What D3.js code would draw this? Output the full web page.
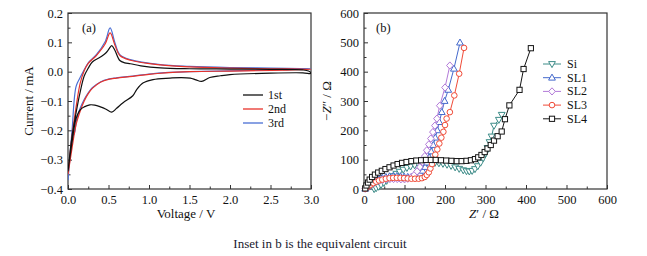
<!DOCTYPE html>
<html><head><meta charset="utf-8">
<script src="https://cdn.jsdelivr.net/npm/d3@7/dist/d3.min.js"></script>
<style>
html,body{margin:0;padding:0;background:#fff;}
svg{display:block;font-family:"Liberation Serif","DejaVu Serif",serif;}
</style></head>
<body><svg id="c" width="647" height="256"></svg>
<script>
// ---------- Data (a): cyclic voltammetry ----------
const cvSeries = ["1st","2nd","3rd"];
const cv1V = [0.00,0.05,0.10,0.15,0.20,0.25,0.30,0.40,0.46,0.50,0.54,0.58,0.64,0.70,0.77,0.90,1.14,1.50,2.00,2.50,2.90,2.97,3.00,
              2.90,2.50,2.00,1.88,1.75,1.65,1.58,1.51,1.40,1.26,1.05,0.93,0.85,0.80,0.68,0.60,0.54,0.47,0.40,0.33,0.27,0.20,0.15,0.10,0.05,0.00];
const cv1I = [-0.34,-0.22,-0.14,-0.07,-0.015,0.012,0.033,0.050,0.062,0.075,0.089,0.072,0.038,0.030,0.027,0.020,0.013,0.010,0.009,0.008,0.006,0.002,-0.006,
              -0.004,-0.005,-0.010,-0.014,-0.020,-0.033,-0.028,-0.022,-0.020,-0.022,-0.027,-0.038,-0.060,-0.082,-0.106,-0.125,-0.138,-0.128,-0.120,-0.114,-0.113,-0.120,-0.130,-0.160,-0.240,-0.34];
const cv2V = [0.00,0.05,0.10,0.15,0.20,0.25,0.35,0.46,0.52,0.58,0.64,0.77,1.14,1.50,2.00,2.50,3.00,
              2.50,2.00,1.50,1.20,1.00,0.80,0.60,0.50,0.40,0.30,0.25,0.20,0.15,0.10,0.05,0.00];
const cv2I = [-0.35,-0.22,-0.12,-0.04,0.003,0.028,0.055,0.095,0.132,0.090,0.055,0.039,0.023,0.016,0.012,0.010,0.008,
              0.004,0.002,0.000,-0.004,-0.009,-0.016,-0.022,-0.026,-0.036,-0.057,-0.075,-0.100,-0.135,-0.180,-0.260,-0.35];
const cv3V = [0.00,0.05,0.10,0.15,0.19,0.25,0.35,0.46,0.52,0.58,0.64,0.77,1.14,1.50,2.00,2.50,3.00,
              2.50,2.00,1.50,1.20,1.00,0.80,0.60,0.50,0.40,0.30,0.25,0.20,0.15,0.12,0.10,0.08,0.06,0.03,0.00];
const cv3I = [-0.37,-0.20,-0.05,-0.02,0.001,0.030,0.058,0.103,0.149,0.098,0.058,0.041,0.024,0.018,0.014,0.012,0.010,
              0.006,0.003,0.000,-0.003,-0.008,-0.015,-0.021,-0.025,-0.035,-0.055,-0.072,-0.095,-0.125,-0.150,-0.175,-0.210,-0.220,-0.280,-0.37];
const cvXTicks = [0.0,0.5,1.0,1.5,2.0,2.5,3.0];
const cvYTicks = [-0.4,-0.3,-0.2,-0.1,0.0,0.1,0.2];

// ---------- Data (b): impedance ----------
const eisSeries = ["Si","SL1","SL2","SL3","SL4"];
const siZr  = [25,30,36,42,49,56,64,72,80,88,97,106,115,125,135,145,155,165,175,185,195,205,215,225,235,245,253,260,267,274,281,288,294,300,305,310,315,321,333,340];
const siZi  = [0,3,8,14,21,28,36,44,52,59,66,72,77,81,85,87,89,89,89,88,86,83,79,74,69,64,61,60,62,68,78,90,105,122,140,160,179,216,236,253];
const sl1Zr = [3,7,12,17,23,30,37,45,54,63,72,81,90,99,108,117,125,132,139,145,151,156,161,166,171,176,181,186,192,199,208,222,237];
const sl1Zi = [1,6,12,18,24,29,34,38,41,43,44,44,43,42,41,40,41,45,52,62,75,90,108,128,150,175,200,228,262,300,338,410,499];
const sl2Zr = [3,7,12,17,23,30,38,46,55,64,73,82,91,100,108,116,124,131,138,144,150,155,160,165,170,175,180,187,200,212];
const sl2Zi = [1,6,11,16,21,25,28,31,33,34,34,34,33,33,35,40,48,60,75,92,112,132,152,172,194,216,240,284,346,421];
const sl3Zr = [3,7,12,17,23,30,37,45,54,63,72,81,90,99,108,117,126,135,143,150,155,160,164,168,172,176,181,186,191,196,200,204,212,223,235,247];
const sl3Zi = [1,5,10,15,20,25,29,32,35,37,38,38,38,37,36,35,35,35,37,41,48,57,70,85,100,117,135,155,175,195,218,240,262,319,393,481];
const sl4Zr = [3,6,10,14,20,27,35,44,53,63,73,83,94,105,117,129,141,153,165,177,190,203,216,229,241,253,264,274,282,290,298,305,313,321,330,340,348,359,384,394,412];
const sl4Zi = [2,12,22,32,41,49,56,62,68,74,80,85,89,92,95,97,98,99,99,99,98,97,96,95,95,96,98,102,108,116,126,138,150,165,180,196,238,285,338,409,480];
const eisXTicks = [0,100,200,300,400,500,600];
const eisYTicks = [0,100,200,300,400,500,600];

// ---------- Styles ----------
const cvColors = {"1st":"#111111","2nd":"#e8322a","3rd":"#4a6ed4"};
const eisColors = {"Si":"#3d8c88","SL1":"#4469cc","SL2":"#b27ad8","SL3":"#f04b38","SL4":"#151515"};
const eisShapes = {"Si":"tri-down","SL1":"tri-up","SL2":"diamond","SL3":"circle","SL4":"square"};

const svg = d3.select("#c");
const frameColor = "#333";

// ====== Panel (a) ======
const A = {l:68, r:311, t:13, b:189};
const xa = d3.scaleLinear().domain([0,3]).range([A.l, A.r]);
const ya = d3.scaleLinear().domain([-0.4,0.2]).range([A.b, A.t]);

function drawAxes(P, x, y, xt, yt, xMinor, yMinor, xfmt, yfmt){
  const g = svg.append("g");
  g.append("g").attr("transform",`translate(0,${P.b})`)
    .call(d3.axisBottom(x).tickValues(xMinor).tickSize(-2.5).tickFormat(""))
    .call(s=>s.select(".domain").remove());
  g.append("g").attr("transform",`translate(${P.l},0)`)
    .call(d3.axisLeft(y).tickValues(yMinor).tickSize(-2.5).tickFormat(""))
    .call(s=>s.select(".domain").remove());
  const xg = g.append("g").attr("transform",`translate(0,${P.b})`)
    .call(d3.axisBottom(x).tickValues(xt).tickSize(-4).tickPadding(4).tickFormat(xfmt));
  xg.select(".domain").remove();
  const yg = g.append("g").attr("transform",`translate(${P.l},0)`)
    .call(d3.axisLeft(y).tickValues(yt).tickSize(-4).tickPadding(5).tickFormat(yfmt));
  yg.select(".domain").remove();
  g.selectAll(".tick line").attr("stroke",frameColor);
  g.selectAll(".tick text").attr("font-size",12.5).attr("fill","#111")
    .attr("font-family","'Liberation Serif',serif");
  xg.selectAll(".tick text").attr("dy","0.9em");
  g.append("rect").attr("x",P.l).attr("y",P.t).attr("width",P.r-P.l).attr("height",P.b-P.t)
    .attr("fill","none").attr("stroke",frameColor).attr("stroke-width",1.2);
}

const cvXMinor = d3.range(0.25,3,0.5);
const cvYMinor = d3.range(-0.35,0.2,0.1);
drawAxes(A, xa, ya, cvXTicks, cvYTicks, cvXMinor, cvYMinor,
  d=>d3.format(".1f")(d), d=>(d<0? "\u2212"+d3.format(".1f")(-d) : d3.format(".1f")(d)));

const cvData = [
  {name:"1st", v:cv1V, i:cv1I},
  {name:"2nd", v:cv2V, i:cv2I},
  {name:"3rd", v:cv3V, i:cv3I}
];
const cvLine = d3.line().x(d=>xa(d[0])).y(d=>ya(d[1])).curve(d3.curveCatmullRom.alpha(0.5));
svg.append("clipPath").attr("id","clipA").append("rect")
  .attr("x",A.l).attr("y",A.t).attr("width",A.r-A.l).attr("height",A.b-A.t);
const cvG = svg.append("g").attr("clip-path","url(#clipA)");
cvData.slice().reverse().forEach(s=>{
  const pts = s.v.map((v,k)=>[v,s.i[k]]);
  cvG.append("path").attr("d",cvLine(pts)).attr("fill","none")
    .attr("stroke",cvColors[s.name]).attr("stroke-width",1.2);
});
cvSeries.forEach((n,k)=>{
  const yy = 95 + k*14;
  svg.append("line").attr("x1",243).attr("x2",263).attr("y1",yy).attr("y2",yy)
    .attr("stroke",cvColors[n]).attr("stroke-width",1.3);
  svg.append("text").attr("x",268).attr("y",yy+4).attr("font-size",12).attr("fill","#111").text(n);
});
svg.append("text").attr("x",82).attr("y",32).attr("font-size",12.5).attr("fill","#111").text("(a)");
svg.append("text").attr("x",186).attr("y",218).attr("text-anchor","middle").attr("font-size",13).attr("fill","#111").text("Voltage / V");
svg.append("text").attr("transform","translate(33,101) rotate(-90)").attr("text-anchor","middle")
  .attr("font-size",13).attr("fill","#111").text("Current / mA");

// ====== Panel (b) ======
const B = {l:364, r:607, t:13, b:189};
const xb = d3.scaleLinear().domain([0,600]).range([B.l, B.r]);
const yb = d3.scaleLinear().domain([0,600]).range([B.b, B.t]);
drawAxes(B, xb, yb, eisXTicks, eisYTicks, d3.range(50,600,100), d3.range(50,600,100),
  d=>d3.format("d")(d), d=>d3.format("d")(d));

const eisData = [
  {name:"Si", x:siZr, y:siZi},
  {name:"SL1", x:sl1Zr, y:sl1Zi},
  {name:"SL2", x:sl2Zr, y:sl2Zi},
  {name:"SL3", x:sl3Zr, y:sl3Zi},
  {name:"SL4", x:sl4Zr, y:sl4Zi}
];
function marker(g, shape, cx, cy, color){
  let el;
  if(shape==="circle"){
    el = g.append("circle").attr("cx",cx).attr("cy",cy).attr("r",2.8);
  } else if(shape==="square"){
    el = g.append("rect").attr("x",cx-2.6).attr("y",cy-2.6).attr("width",5.2).attr("height",5.2);
  } else if(shape==="diamond"){
    el = g.append("path").attr("d",`M${cx},${cy-3.6}L${cx+3.3},${cy}L${cx},${cy+3.6}L${cx-3.3},${cy}Z`);
  } else if(shape==="tri-up"){
    el = g.append("path").attr("d",`M${cx},${cy-3.6}L${cx+3.4},${cy+2.4}L${cx-3.4},${cy+2.4}Z`);
  } else {
    el = g.append("path").attr("d",`M${cx},${cy+3.6}L${cx+3.4},${cy-2.4}L${cx-3.4},${cy-2.4}Z`);
  }
  el.attr("fill","#fff").attr("stroke",color).attr("stroke-width",1);
}
const eisLine = d3.line().x(d=>xb(d[0])).y(d=>yb(d[1]));
const eisG = svg.append("g");
eisData.forEach(s=>{
  const pts = s.x.map((v,k)=>[v,s.y[k]]);
  const g = eisG.append("g");
  g.append("path").attr("d",eisLine(pts)).attr("fill","none").attr("stroke",eisColors[s.name]).attr("stroke-width",1);
  pts.forEach(p=>marker(g, eisShapes[s.name], xb(p[0]), yb(p[1]), eisColors[s.name]));
});
eisSeries.forEach((n,k)=>{
  const yy = 64 + k*13.7;
  svg.append("line").attr("x1",543).attr("x2",561).attr("y1",yy).attr("y2",yy)
    .attr("stroke",eisColors[n]).attr("stroke-width",1);
  marker(svg, eisShapes[n], 552, yy, eisColors[n]);
  svg.append("text").attr("x",567).attr("y",yy+4).attr("font-size",12).attr("fill","#111").text(n);
});
svg.append("text").attr("x",376).attr("y",32).attr("font-size",12.5).attr("fill","#111").text("(b)");
const xl = svg.append("text").attr("x",484).attr("y",218).attr("text-anchor","middle").attr("font-size",13).attr("fill","#111");
xl.append("tspan").attr("font-style","italic").text("Z");
xl.append("tspan").text("\u2032 / \u03A9");
const yl = svg.append("text").attr("transform","translate(331,101) rotate(-90)").attr("text-anchor","middle")
  .attr("font-size",13).attr("fill","#111");
yl.append("tspan").text("\u2212");
yl.append("tspan").attr("font-style","italic").text("Z");
yl.append("tspan").text("\u2033 / \u03A9");

svg.append("text").attr("x",320).attr("y",248).attr("text-anchor","middle").attr("font-size",13)
  .attr("fill","#1a1a2e").text("Inset in b is the equivalent circuit");
</script></body></html>
